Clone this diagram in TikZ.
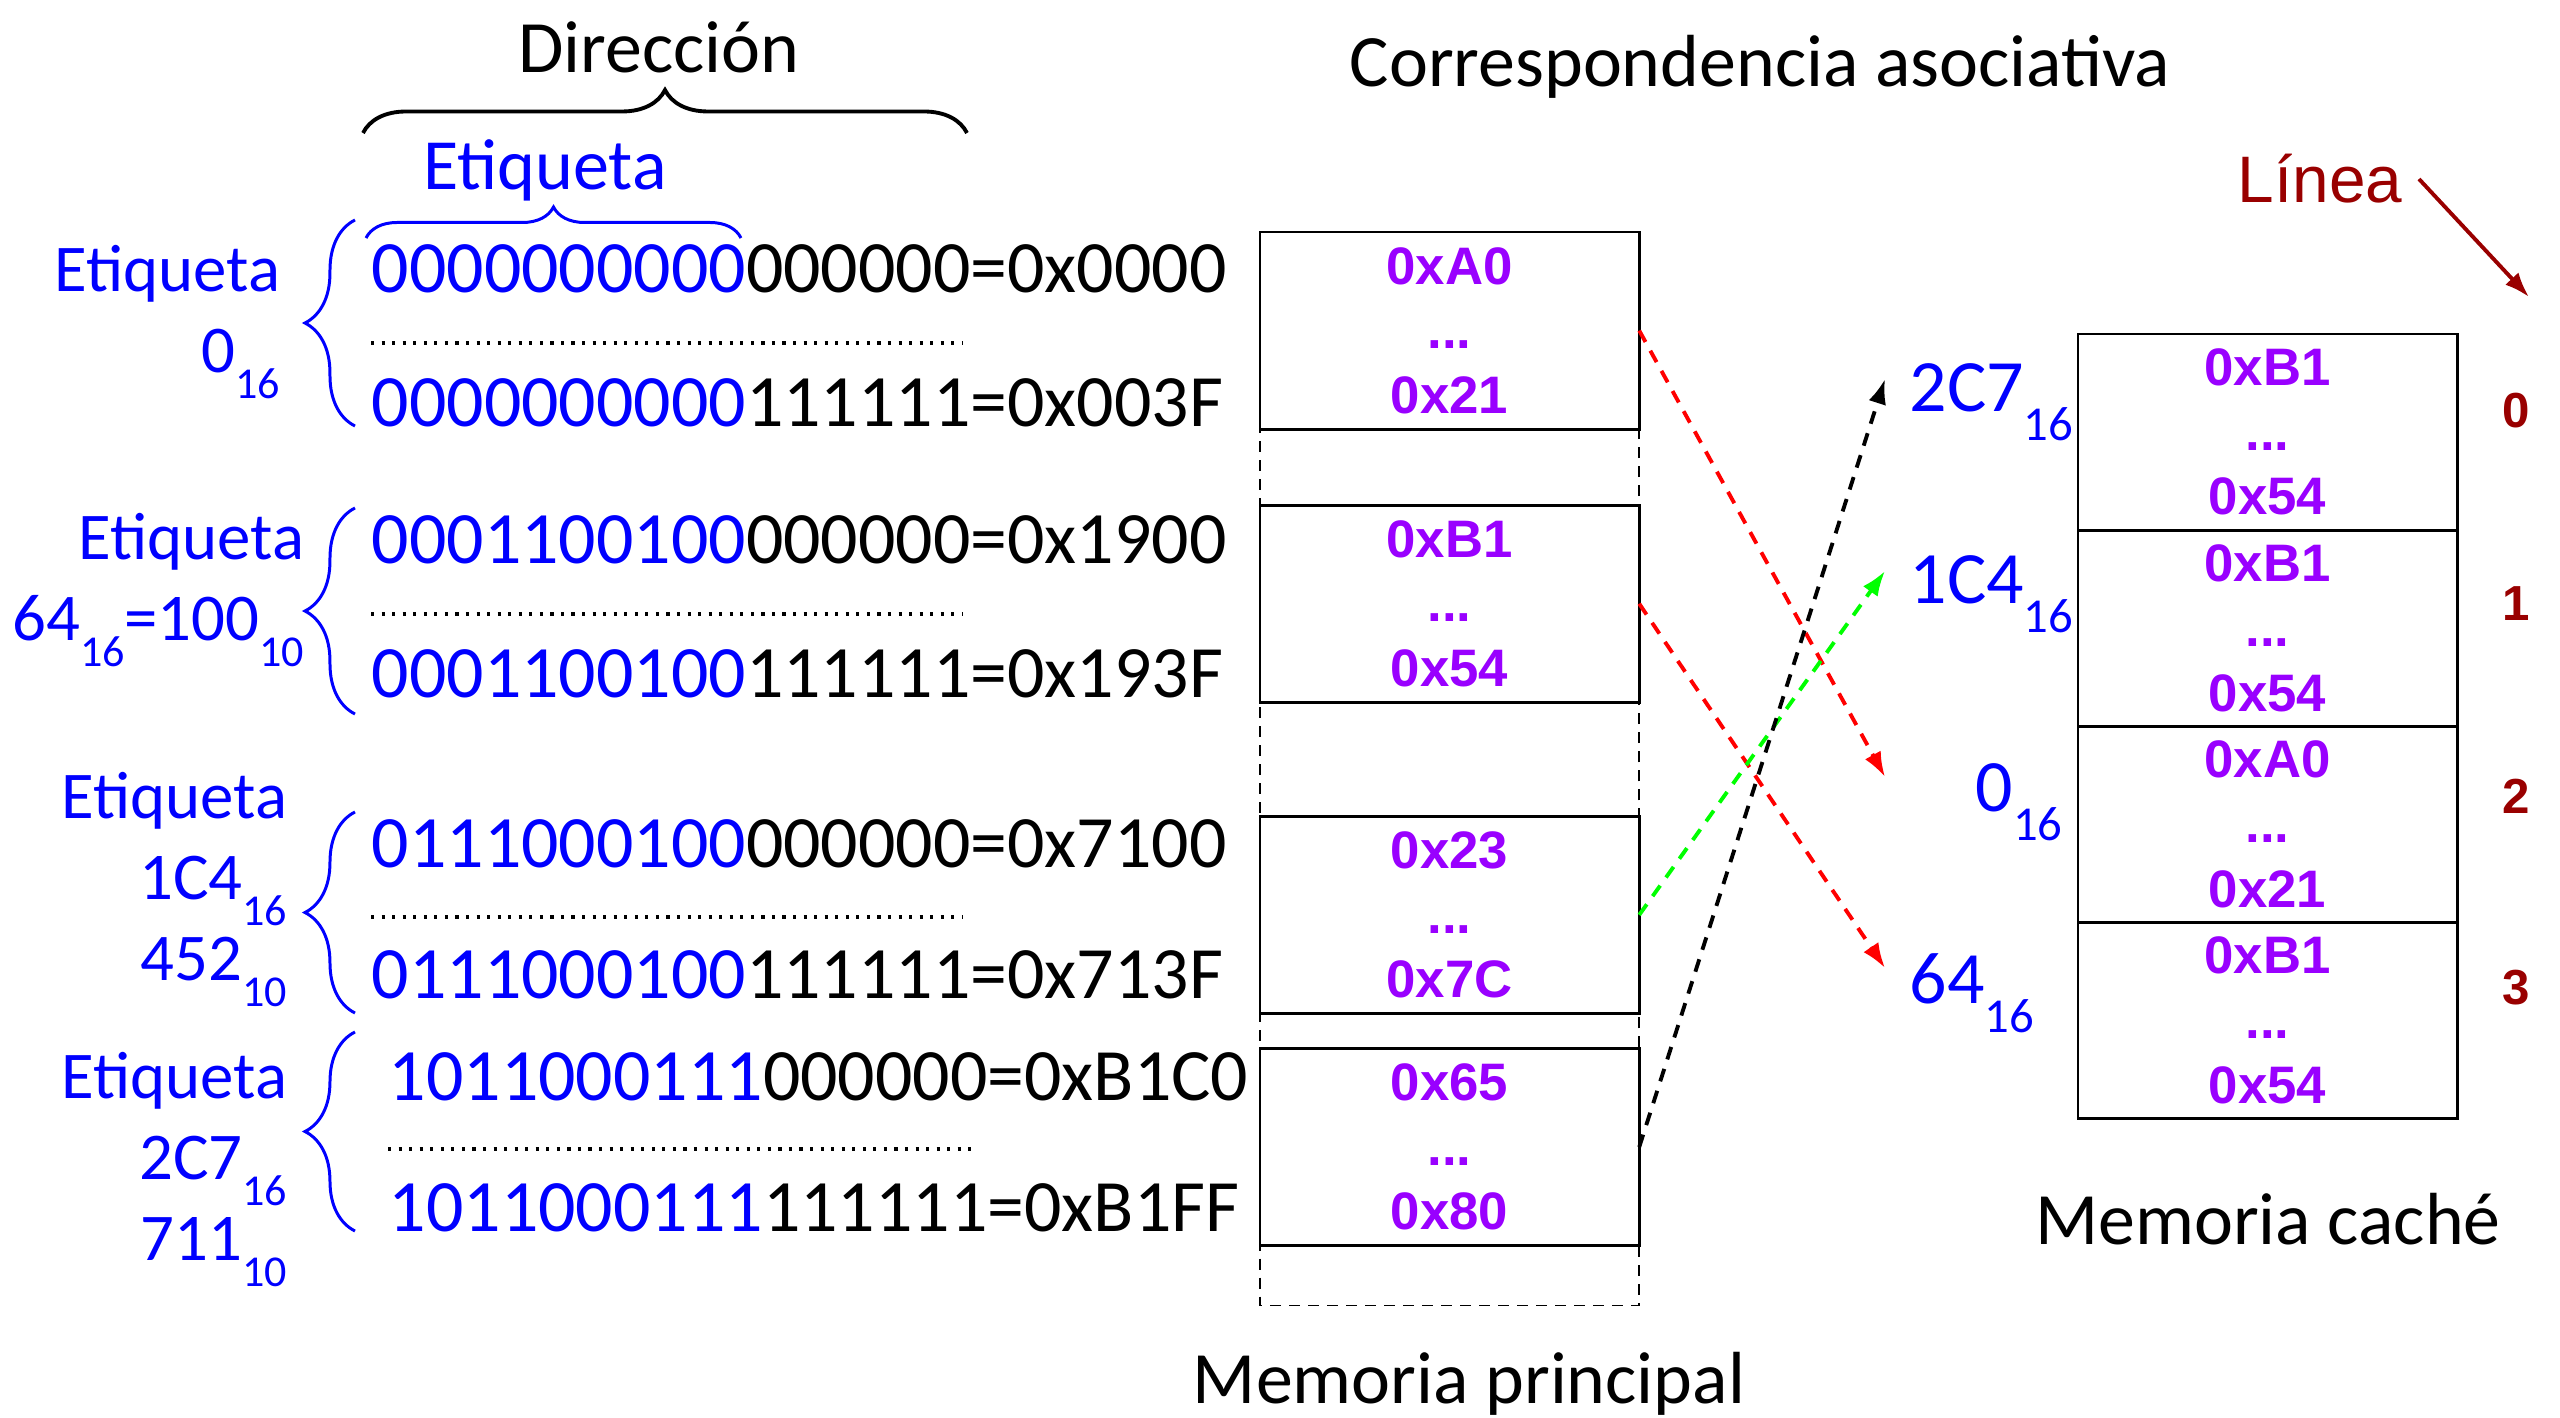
\documentclass[tikz,border=0pt]{standalone}
\usepackage{fontspec}
\setmainfont{Carlito}
\newfontfamily\arialfont{Liberation Sans}
\usepackage{graphicx}
\usepackage{xcolor}
\usepackage{tikz}
\usetikzlibrary{arrows.meta,positioning,calc,decorations.pathreplacing}
\definecolor{tagblue}{HTML}{0000FF}
\definecolor{memviolet}{HTML}{9900FF}
\definecolor{linered}{HTML}{990000}
\definecolor{mapred}{HTML}{FF0000}
\definecolor{mapgreen}{HTML}{00FF00}
\newcommand{\bsub}[1]{\raisebox{-0.4em}{\scalebox{0.66}{#1}}}
\newcommand{\tagbits}[1]{\textcolor{tagblue}{#1}}

\begin{document}
\begin{tikzpicture}[x=0.01cm,y=-0.01cm,node distance=0cm]
    \tikzset{
      bits/.style={anchor=base west,inner sep=0pt,font=\fontsize{21}{25}\selectfont},
      title/.style={anchor=base,inner sep=0pt,font=\fontsize{21}{25}\selectfont},
      taglabel/.style={anchor=base east,inner sep=0pt,align=right,text=tagblue,font=\fontsize{19}{23}\selectfont},
      hexlabel/.style={anchor=base west,inner sep=0pt,text=tagblue,font=\fontsize{21}{25}\selectfont},
      memblk/.style={draw,line width=0.8pt,minimum width=3.79cm,minimum height=1.97cm,inner sep=0pt,outer sep=0pt,align=center,text=memviolet,font=\arialfont\bfseries\fontsize{15}{18.4}\selectfont},
      cacheline/.style={memblk,minimum height=1.96cm},
      lnum/.style={text=linered,inner sep=0pt,font=\arialfont\bfseries\fontsize{14}{16}\selectfont},
      outline/.style={line width=0.5pt,dash pattern=on 1.1mm off 0.8mm},
      tagbrace/.style={decorate,decoration={brace,amplitude=#1},draw=tagblue,line width=0.85pt},
      dotline/.style={line width=0.9pt,dash pattern=on 0.9pt off 2.1pt},
      maparrow/.style={-{Latex[length=2.5mm,width=1.8mm]},line width=1.1pt,dash pattern=on 1.3mm off 1mm}
    }
    \useasboundingbox (0,0) rectangle (2560,1418);
    \node[title] (dir) at (659,72) {Dirección};
    \draw[decorate,decoration={brace,amplitude=0.43cm},line width=1.1pt] (363,133) -- (967,133);
    \node[title,text=tagblue,font=\fontsize{20.5}{24}\selectfont] (tagtop) at (545,189) {Etiqueta};
    \draw[tagbrace=0.31cm] (366,238) -- (741,238);
    \node[title] (corr) at (1760,87) {Correspondencia asociativa};
    \node[taglabel] (lab1) at (281,372) {Etiqueta\\0\bsub{16}};
    \node[taglabel] (lab2) at (305,640) {Etiqueta\\64\bsub{16}=100\bsub{10}};
    \node[taglabel] (lab3) at (288,980) {Etiqueta\\1C4\bsub{16}\\452\bsub{10}};
    \node[taglabel] (lab4) at (288,1260) {Etiqueta\\2C7\bsub{16}\\711\bsub{10}};
    \draw[tagbrace=0.5cm] (355,426) -- (355,220);
    \draw[tagbrace=0.5cm] (355,714) -- (355,508);
    \draw[tagbrace=0.5cm] (355,1013) -- (355,812);
    \draw[tagbrace=0.5cm] (355,1231) -- (355,1032);
    \node[bits] (r1a) at (371,292) {\tagbits{0000000000}000000=0x0000};
    \node[bits] (r1b) at (371,426) {\tagbits{0000000000}111111=0x003F};
    \node[bits] (r2a) at (371,563) {\tagbits{0001100100}000000=0x1900};
    \node[bits] (r2b) at (371,697) {\tagbits{0001100100}111111=0x193F};
    \node[bits] (r3a) at (371,867) {\tagbits{0111000100}000000=0x7100};
    \node[bits] (r3b) at (371,998) {\tagbits{0111000100}111111=0x713F};
    \node[bits] (r4a) at (388,1100) {\tagbits{1011000111}000000=0xB1C0};
    \node[bits] (r4b) at (388,1231) {\tagbits{1011000111}111111=0xB1FF};
    \draw[dotline] (371,343) -- (962,343);
    \draw[dotline] (371,614) -- (962,614);
    \draw[dotline] (371,917) -- (962,917);
    \draw[dotline] (388,1149) -- (978,1149);
    \node[memblk,anchor=north west] (blk1) at (1260,232) {0xA0\\...\\0x21};
    \node[memblk,below=0.76cm of blk1] (blk2) {0xB1\\...\\0x54};
    \node[memblk,below=1.14cm of blk2] (blk3) {0x23\\...\\0x7C};
    \node[memblk,below=0.35cm of blk3] (blk4) {0x65\\...\\0x80};
    \draw[outline] (blk1.north west) rectangle ($(blk4.south east)+(0,60)$);
    \node[title] (mp) at (1469,1403) {Memoria principal};
    \node[cacheline,anchor=north west] (lin0) at (2078,334) {0xB1\\...\\0x54};
    \node[cacheline,below=of lin0] (lin1) {0xB1\\...\\0x54};
    \node[cacheline,below=of lin1] (lin2) {0xA0\\...\\0x21};
    \node[cacheline,below=of lin2] (lin3) {0xB1\\...\\0x54};
    \node[title] (mc) at (2268,1244) {Memoria caché};
    \node[lnum] (n0) at (2516,411) {0};
    \node[lnum] (n1) at (2516,604) {1};
    \node[lnum] (n2) at (2516,796) {2};
    \node[lnum] (n3) at (2516,988) {3};
    \node[anchor=base west,inner sep=0pt,text=linered,font=\arialfont\fontsize{18.7}{22}\selectfont] (linea) at (2237,202) {Línea};
    \coordinate (linetip) at (2529,297);
    \draw[-{Latex[length=2.5mm,width=1.8mm]},linered,line width=1.1pt] ([shift={(16,-23)}]linea.base east) -- (linetip);
    \node[hexlabel] (h2c7) at (1909,411) {2C7\bsub{16}};
    \node[hexlabel] (h1c4) at (1909,603) {1C4\bsub{16}};
    \node[hexlabel] (h0) at (1975,811) {0\bsub{16}};
    \node[hexlabel] (h64) at (1909,1003) {64\bsub{16}};
    \coordinate (to2c7) at (1885,379);
    \coordinate (to1c4) at (1885,571);
    \coordinate (to0) at (1885,777);
    \coordinate (to64) at (1885,968);
    \draw[maparrow,color=mapred] (blk1.east) -- (to0);
    \draw[maparrow,color=mapred] (blk2.east) -- (to64);
    \draw[maparrow,color=mapgreen] (blk3.east) -- (to1c4);
    \draw[maparrow,color=black] (blk4.east) -- (to2c7);
  \end{tikzpicture}
\end{document}
